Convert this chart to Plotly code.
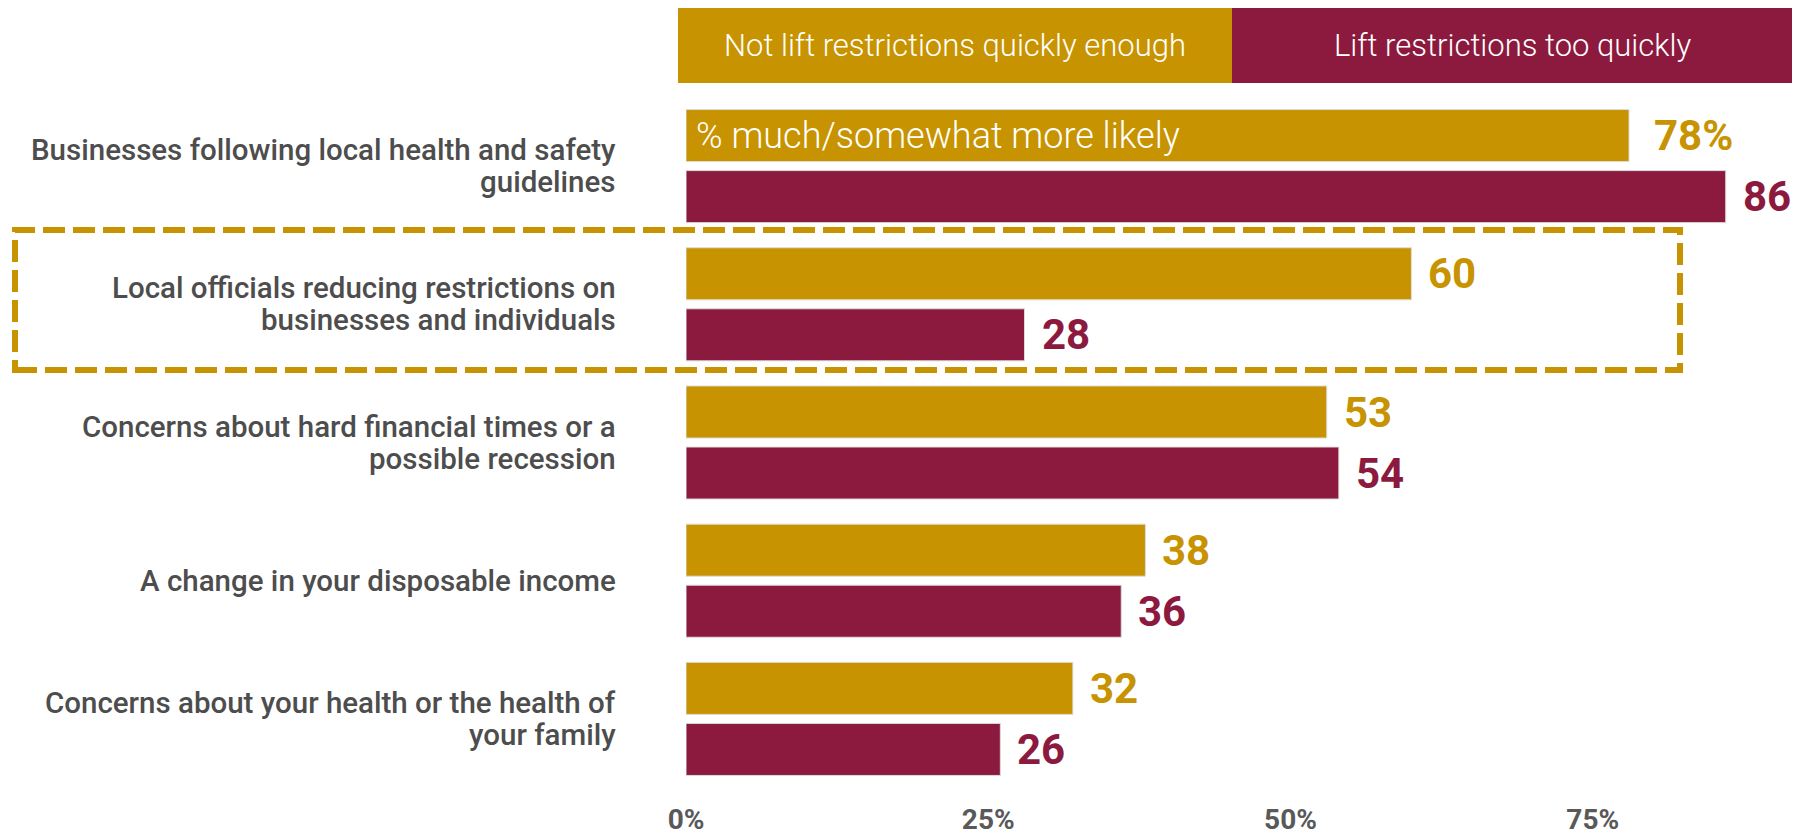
import plotly.graph_objects as go

# Survey items (top to bottom) and share "much/somewhat more likely" by group
categories = [
    "Businesses following local health and safety<br>guidelines",
    "Local officials reducing restrictions on<br>businesses and individuals",
    "Concerns about hard financial times or a<br>possible recession",
    "A change in your disposable income",
    "Concerns about your health or the health of<br>your family",
]
not_quick_enough = [78, 60, 53, 38, 32]
too_quickly = [86, 28, 54, 36, 26]
series_names = ["Not lift restrictions quickly enough", "Lift restrictions too quickly"]
tick_values = [0, 25, 50, 75]
tick_labels = ["0%", "25%", "50%", "75%"]

GOLD = "#C79300"
MAROON = "#8C1A3E"
GREY = "#4D4D4D"

W, H = 1805, 839
L, R, T, B = 686, 0, 97, 51
plot_w = W - L - R
plot_h = H - T - B


def px_x(px):
    return (px - L) / plot_w


def px_y(py):
    return (H - B - py) / plot_h


fig = go.Figure()
for name, vals, color in [
    (series_names[0], not_quick_enough, GOLD),
    (series_names[1], too_quickly, MAROON),
]:
    fig.add_trace(go.Bar(
        x=vals, y=categories, orientation="h", name=name,
        marker=dict(color=color, line=dict(color="#dcdcdc", width=1)),
        hoverinfo="skip",
    ))

annotations = []
shift = 30.5
# value labels beside each bar
for i, cat in enumerate(categories):
    for vals, color, ys in [(not_quick_enough, GOLD, shift), (too_quickly, MAROON, -shift)]:
        v = vals[i]
        first = i == 0 and vals is not_quick_enough
        annotations.append(dict(
            x=v, y=cat, xref="x", yref="y", text=f"{v}%" if first else f"{v}",
            showarrow=False, xanchor="left", yanchor="middle",
            xshift=23 if first else 15, yshift=ys,
            font=dict(family="Roboto", size=42, color=color, weight="bold"),
        ))

# category labels, one annotation per line for tight leading
line_gap = 32
for cat in categories:
    lines = cat.split("<br>")
    n = len(lines)
    for j, ln in enumerate(lines):
        annotations.append(dict(
            x=px_x(618), y=cat, xref="paper", yref="y", text=ln, showarrow=False,
            xanchor="right", yanchor="middle",
            yshift=((n - 1) / 2 - j) * line_gap,
            font=dict(family="Roboto", size=29.5, color=GREY, weight=500),
        ))

# note inside the first bar
annotations.append(dict(
    x=0, y=categories[0], xref="x", yref="y", text="% much/somewhat more likely",
    showarrow=False, xanchor="left", yanchor="middle", xshift=8, yshift=shift,
    font=dict(family="Roboto", size=36, color="white", weight=300),
))

# header legend blocks
hdr_top, hdr_bot = px_y(8), px_y(83)
hdr_x = [px_x(678), px_x(1232), px_x(1792)]
shapes = []
for k, color in enumerate([GOLD, MAROON]):
    shapes.append(dict(
        type="rect", xref="paper", yref="paper",
        x0=hdr_x[k], x1=hdr_x[k + 1], y0=hdr_bot, y1=hdr_top,
        fillcolor=color, line=dict(width=0), layer="above",
    ))
    annotations.append(dict(
        x=(hdr_x[k] + hdr_x[k + 1]) / 2, y=(hdr_top + hdr_bot) / 2,
        xref="paper", yref="paper", text=series_names[k], showarrow=False,
        xanchor="center", yanchor="middle",
        font=dict(family="Roboto", size=31, color="white", weight=300),
    ))

# dashed highlight around the second item
shapes.append(dict(
    type="rect", xref="paper", yref="paper",
    x0=px_x(15), x1=px_x(1680), y0=px_y(370), y1=px_y(230),
    line=dict(color=GOLD, width=6, dash="22px,8px"), fillcolor="rgba(0,0,0,0)",
    layer="above",
))

fig.update_layout(
    width=W, height=H,
    margin=dict(l=L, r=R, t=T, b=B, pad=0),
    paper_bgcolor="white", plot_bgcolor="white",
    barmode="group", bargap=0.1166, bargroupgap=0.1475,
    showlegend=False,
    annotations=annotations, shapes=shapes,
    xaxis=dict(
        range=[0, plot_w / 12.09], tickmode="array",
        tickvals=tick_values, ticktext=tick_labels,
        showgrid=False, zeroline=False, showline=False, ticks="",
        ticklabelstandoff=12, automargin=False,
        tickfont=dict(family="Roboto", size=28, color="#595959", weight="bold"),
        fixedrange=True,
    ),
    yaxis=dict(
        categoryorder="array", categoryarray=categories, autorange="reversed",
        showticklabels=False, showgrid=False, zeroline=False, showline=False,
        ticks="", fixedrange=True, automargin=False,
    ),
)

fig.write_html("out.html")
